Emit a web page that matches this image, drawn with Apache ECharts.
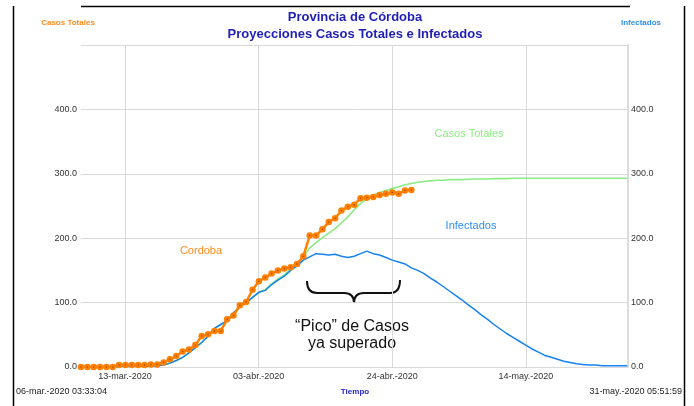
<!DOCTYPE html>
<html><head><meta charset="utf-8">
<script src="https://cdn.jsdelivr.net/npm/echarts@6/dist/echarts.min.js"></script>
<style>html,body{margin:0;padding:0;background:#fff}#c{width:694px;height:406px}</style>
</head><body><div id="c"></div>
<script>
// time in days since 06-mar.-2020 03:33:04
const xTickValues = [6.92, 27.96, 48.99, 70.03];
const xTickLabels = ['13-mar.-2020', '03-abr.-2020', '24-abr.-2020', '14-may.-2020'];
const startLabel = '06-mar.-2020 03:33:04';
const endLabel = '31-may.-2020 05:51:59';
const xMax = 86.1;

const cordoba = [0,0,0,0,0,0,3,3,3,3,3,4,4,7,12,17,24,27,34,48,51,56,56,74,80,96,101,120,133,139,145,150,153,
  155,160,172,204,204,214,225,231,243,249,252,262,263,264,267,269,271,269,274,275];

const casosTotales = [0,0,0,0,0,0,1,1,1,1,1,1,2,3,
  6,10,15,22,30,38,48,60,66,72,84,93,100,108,116,120,129,137,143,152,160,
  171,185,193,201,208,215,224,233,244,254,261,267,271,274,277,280,283,285,287,288,289,290,290,291,291,291,291.5,
  292,292,292,292.5,292.5,292.5,293,293,293,293,293,293,293,293,293,293,293,293,293,293,293,293,293,293,293];

const infectados = [0,0,0,0,0,0,1,1,1,1,1,1,2,3,
  6,10,15,22,30,38,48,60,66,72,84,93,100,108,116,119,128,135,141,150,157,
  166,171,176,175,174,175,172,170,172,176,180,176,174,170,166,163,160,154,150,145,138,132,125,118,111,104,96,
  89,81,74,66,59,52,46,40,34,28,23,18,15,12,9,7,5,4,3,3,2,2,2,2,2];

const toPairs = a => a.map((v, i) => [i, v]);
const FONT = "'Liberation Sans', Arial, sans-serif";

const chart = echarts.init(document.getElementById('c'));
const yCommon = {
  type: 'value', min: 0, max: 500, interval: 100,
  axisTick: {show: false},
  axisLabel: {showMaxLabel: false, formatter: v => v.toFixed(1), fontSize: 9, color: '#333', fontFamily: FONT},
  splitLine: {show: true, lineStyle: {color: '#d9d9d9', width: 1}}
};
const braceStyle = {stroke: '#111', lineWidth: 2, fill: null};
chart.setOption({
  animation: false,
  backgroundColor: '#fff',
  grid: {left: 81, right: 66, top: 45, bottom: 39},
  xAxis: {
    type: 'value', min: 0, max: xMax,
    axisLine: {show: false},
    axisTick: {show: false, customValues: xTickValues},
    axisLabel: {customValues: xTickValues, margin: 5, fontSize: 9, color: '#333', fontFamily: FONT,
      formatter: v => { let k = 0, d = 1e9; xTickValues.forEach((t, i) => { if (Math.abs(t - v) < d) { d = Math.abs(t - v); k = i; } }); return xTickLabels[k]; }},
    splitLine: {show: true, lineStyle: {color: '#d9d9d9', width: 1}}
  },
  yAxis: [
    Object.assign({}, yCommon, {position: 'left', axisLine: {show: false}, axisLabel: Object.assign({}, yCommon.axisLabel, {margin: 4})}),
    Object.assign({}, yCommon, {position: 'right', axisLine: {show: true, lineStyle: {color: '#dcdcdc', width: 2}},
      axisLabel: Object.assign({}, yCommon.axisLabel, {margin: 3}), splitLine: {show: false}})
  ],
  series: [
    {name: 'Casos Totales', type: 'line', data: toPairs(casosTotales), showSymbol: false, symbol: 'none',
      lineStyle: {color: '#8aec82', width: 1.6}, itemStyle: {color: '#8aec82'}, z: 2},
    {name: 'Infectados', type: 'line', yAxisIndex: 1, data: toPairs(infectados), showSymbol: false, symbol: 'none',
      lineStyle: {color: '#1682f0', width: 1.5}, itemStyle: {color: '#1682f0'}, z: 3},
    {name: 'Cordoba', type: 'line', data: toPairs(cordoba), symbol: 'circle', symbolSize: 6.5, showSymbol: true,
      lineStyle: {color: '#ff7f00', width: 2.5}, itemStyle: {color: '#ff7f00'}, z: 4},
    {name: 'Cordoba-centro', type: 'scatter', data: toPairs(cordoba), symbol: 'circle', symbolSize: 1.5,
      itemStyle: {color: '#8a4000'}, z: 5, silent: true}
  ],
  graphic: [
    {type: 'line', shape: {x1: 13.5, y1: 6, x2: 13.5, y2: 406}, style: {stroke: '#000', lineWidth: 1.5}},
    {type: 'line', shape: {x1: 684.5, y1: 6, x2: 684.5, y2: 406}, style: {stroke: '#000', lineWidth: 1.5}},
    {type: 'line', shape: {x1: 81, y1: 6.5, x2: 630, y2: 6.5}, style: {stroke: '#000', lineWidth: 1.5}},
    {type: 'text', x: 355, y: 17, style: {text: 'Provincia de Córdoba', font: "bold 13px " + FONT, fill: '#1f1fb4', textAlign: 'center', textVerticalAlign: 'middle'}},
    {type: 'text', x: 355, y: 34, style: {text: 'Proyecciones Casos Totales e Infectados', font: "bold 13px " + FONT, fill: '#1f1fb4', textAlign: 'center', textVerticalAlign: 'middle'}},
    {type: 'text', x: 68, y: 23, style: {text: 'Casos Totales', font: "bold 8px " + FONT, fill: '#ff8a1a', textAlign: 'center', textVerticalAlign: 'middle'}},
    {type: 'text', x: 641, y: 23, style: {text: 'Infectados', font: "bold 8px " + FONT, fill: '#2f8ff0', textAlign: 'center', textVerticalAlign: 'middle'}},
    {type: 'text', x: 201, y: 251, style: {text: 'Cordoba', font: "11px " + FONT, fill: '#ff8a1a', textAlign: 'center', textVerticalAlign: 'middle'}},
    {type: 'text', x: 469, y: 134, style: {text: 'Casos Totales', font: "11px " + FONT, fill: '#8aec82', textAlign: 'center', textVerticalAlign: 'middle'}},
    {type: 'text', x: 471, y: 226, style: {text: 'Infectados', font: "11px " + FONT, fill: '#2f8ff0', textAlign: 'center', textVerticalAlign: 'middle'}},
    {type: 'bezierCurve', shape: {x1: 307, y1: 281, cpx1: 307, cpy1: 293, x2: 317, y2: 293}, style: braceStyle},
    {type: 'line', shape: {x1: 317, y1: 293, x2: 344, y2: 293}, style: braceStyle},
    {type: 'bezierCurve', shape: {x1: 344, y1: 293, cpx1: 354, cpy1: 293, x2: 354, y2: 303}, style: braceStyle},
    {type: 'bezierCurve', shape: {x1: 354, y1: 303, cpx1: 354, cpy1: 293, x2: 364, y2: 293}, style: braceStyle},
    {type: 'line', shape: {x1: 364, y1: 293, x2: 390, y2: 293}, style: braceStyle},
    {type: 'bezierCurve', shape: {x1: 390, y1: 293, cpx1: 400, cpy1: 293, x2: 400, y2: 280}, style: braceStyle},
    {type: 'text', x: 352, y: 327, style: {text: '\u201cPico\u201d de Casos', font: "16px " + FONT, fill: '#111', textAlign: 'center', textVerticalAlign: 'middle'}},
    {type: 'text', x: 352, y: 344, style: {text: 'ya superado', font: "16px " + FONT, fill: '#111', textAlign: 'center', textVerticalAlign: 'middle'}},
    {type: 'text', x: 16, y: 392, style: {text: startLabel, font: "9px " + FONT, fill: '#222', textAlign: 'left', textVerticalAlign: 'middle'}},
    {type: 'text', x: 682, y: 392, style: {text: endLabel, font: "9px " + FONT, fill: '#222', textAlign: 'right', textVerticalAlign: 'middle'}},
    {type: 'text', x: 355, y: 392, style: {text: 'Tiempo', font: "bold 8px " + FONT, fill: '#2424d0', textAlign: 'center', textVerticalAlign: 'middle'}}
  ]
});
</script></body></html>
